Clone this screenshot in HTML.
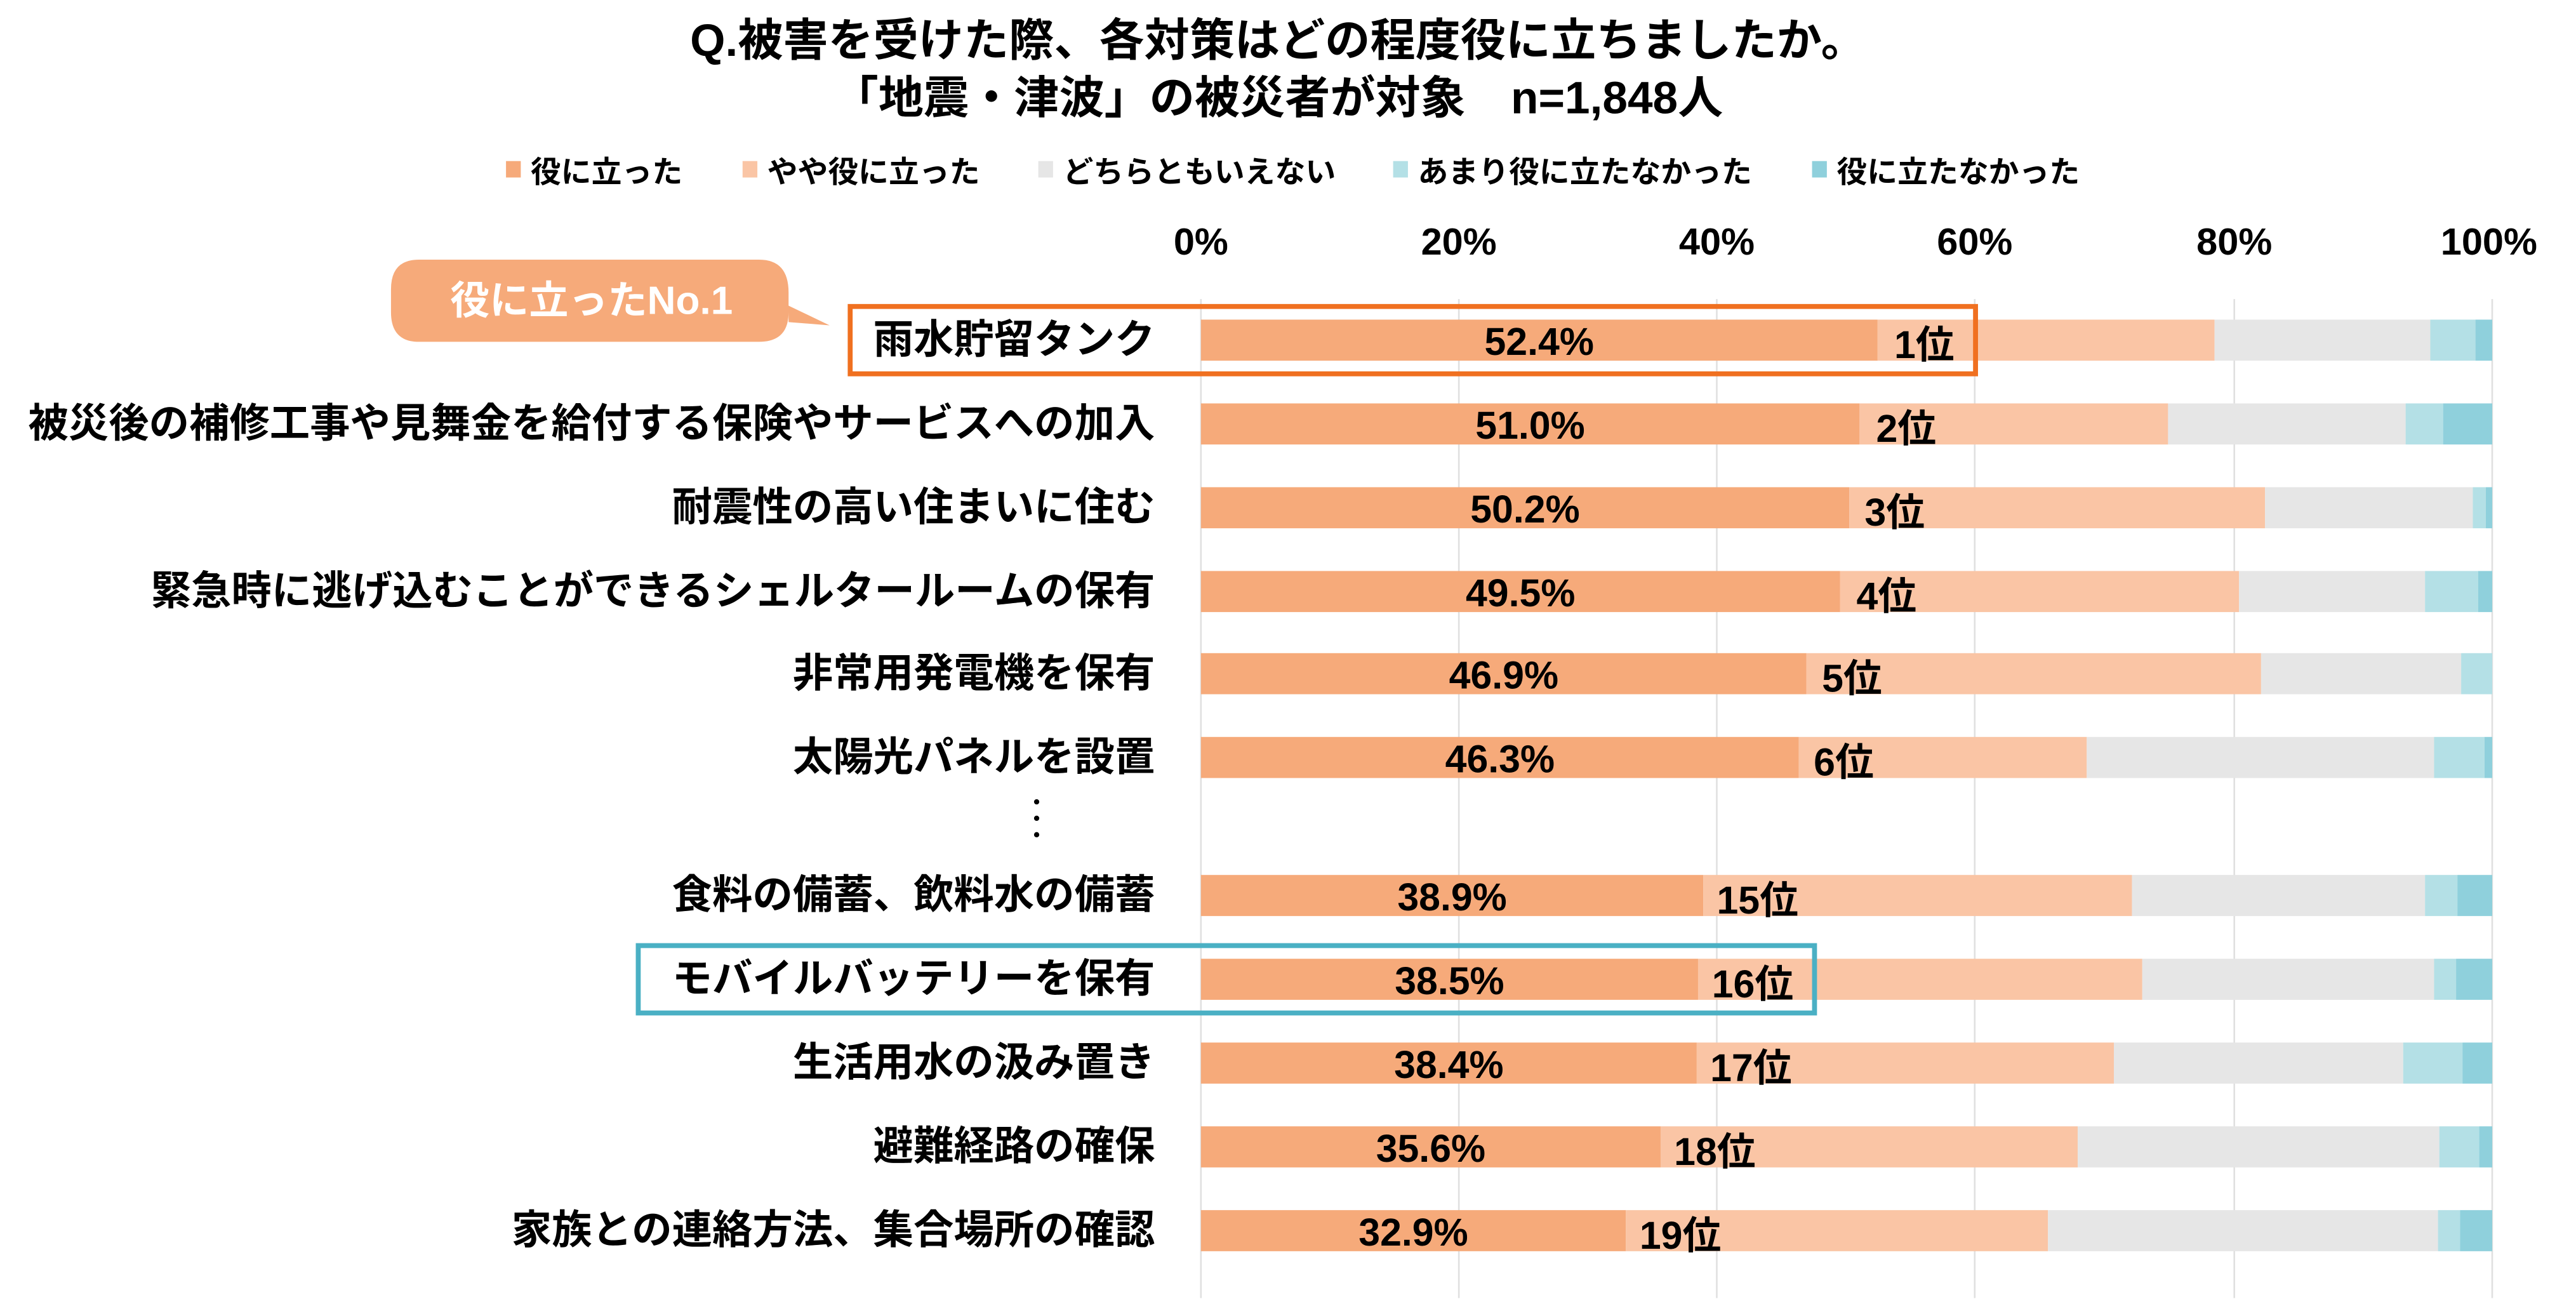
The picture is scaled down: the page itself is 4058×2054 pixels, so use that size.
<!DOCTYPE html>
<html><head><meta charset="utf-8"><style>html,body{margin:0;padding:0;background:#fff}svg{display:block}text{font-family:"Liberation Sans","Noto Sans CJK JP",sans-serif;font-weight:bold;fill:#000}.a{fill:#f6aa7a}.b{fill:#fac5a5}.c{fill:#e6e6e6}.d{fill:#b4e0e6}.e{fill:#8fd0dc}</style></head><body>
<svg width="4058" height="2054" viewBox="0 0 1568 793.6" xmlns="http://www.w3.org/2000/svg">
<text x="778" y="34" font-size="27.5" text-anchor="middle">Q.被害を受けた際、各対策はどの程度役に立ちましたか。</text>
<text x="778" y="69" font-size="27.5" text-anchor="middle">「地震・津波」の被災者が対象　n=1,848人</text>
<g font-size="18.5">
<rect x="308" y="98" width="9" height="10" class="a"/><text x="323" y="111">役に立った</text>
<rect x="452" y="98" width="9" height="10" class="b"/><text x="467" y="111">やや役に立った</text>
<rect x="632" y="98" width="9" height="10" class="c"/><text x="647" y="111">どちらともいえない</text>
<rect x="848" y="98" width="9" height="10" class="d"/><text x="863" y="111">あまり役に立たなかった</text>
<rect x="1103" y="98" width="9" height="10" class="e"/><text x="1118" y="111">役に立たなかった</text>
</g>
<g font-size="23" text-anchor="middle">
<text x="731" y="155">0%</text><text x="888" y="155">20%</text><text x="1045" y="155">40%</text><text x="1202" y="155">60%</text><text x="1360" y="155">80%</text><text x="1515" y="155">100%</text>
</g>
<g stroke="#e0e0e0" stroke-width="1">
<line x1="731" y1="182" x2="731" y2="790"/><line x1="888" y1="182" x2="888" y2="790"/><line x1="1045" y1="182" x2="1045" y2="790"/><line x1="1202" y1="182" x2="1202" y2="790"/><line x1="1360" y1="182" x2="1360" y2="790"/><line x1="1517" y1="182" x2="1517" y2="790"/>
</g>

<g>
<rect class="a" x="731" y="194.5" width="411.9" height="25"/><rect class="b" x="1142.9" y="194.5" width="205.1" height="25"/><rect class="c" x="1348" y="194.5" width="131.3" height="25"/><rect class="d" x="1479.3" y="194.5" width="27.5" height="25"/><rect class="e" x="1506.8" y="194.5" width="10.2" height="25"/>
<rect class="a" x="731" y="245.5" width="400.9" height="25"/><rect class="b" x="1131.9" y="245.5" width="187.8" height="25"/><rect class="c" x="1319.7" y="245.5" width="144.6" height="25"/><rect class="d" x="1464.3" y="245.5" width="22.8" height="25"/><rect class="e" x="1487.1" y="245.5" width="29.9" height="25"/>
<rect class="a" x="731" y="296.5" width="394.6" height="25"/><rect class="b" x="1125.6" y="296.5" width="253.1" height="25"/><rect class="c" x="1378.7" y="296.5" width="126.5" height="25"/><rect class="d" x="1505.2" y="296.5" width="7.9" height="25"/><rect class="e" x="1513.1" y="296.5" width="3.9" height="25"/>
<rect class="a" x="731" y="347.5" width="389.1" height="25"/><rect class="b" x="1120.1" y="347.5" width="242.8" height="25"/><rect class="c" x="1362.9" y="347.5" width="113.2" height="25"/><rect class="d" x="1476.1" y="347.5" width="32.3" height="25"/><rect class="e" x="1508.4" y="347.5" width="8.6" height="25"/>
<rect class="a" x="731" y="397.5" width="368.6" height="25"/><rect class="b" x="1099.6" y="397.5" width="276.7" height="25"/><rect class="c" x="1376.3" y="397.5" width="121.8" height="25"/><rect class="d" x="1498.1" y="397.5" width="18.9" height="25"/>
<rect class="a" x="731" y="448.5" width="363.9" height="25"/><rect class="b" x="1094.9" y="448.5" width="175.3" height="25"/><rect class="c" x="1270.2" y="448.5" width="211.4" height="25"/><rect class="d" x="1481.6" y="448.5" width="30.7" height="25"/><rect class="e" x="1512.3" y="448.5" width="4.7" height="25"/>
<rect class="a" x="731" y="532.5" width="305.8" height="25"/><rect class="b" x="1036.8" y="532.5" width="260.9" height="25"/><rect class="c" x="1297.7" y="532.5" width="178.4" height="25"/><rect class="d" x="1476.1" y="532.5" width="19.7" height="25"/><rect class="e" x="1495.8" y="532.5" width="21.2" height="25"/>
<rect class="a" x="731" y="583.5" width="302.6" height="25"/><rect class="b" x="1033.6" y="583.5" width="270.4" height="25"/><rect class="c" x="1304" y="583.5" width="177.6" height="25"/><rect class="d" x="1481.6" y="583.5" width="13.4" height="25"/><rect class="e" x="1495" y="583.5" width="22" height="25"/>
<rect class="a" x="731" y="634.5" width="301.8" height="25"/><rect class="b" x="1032.8" y="634.5" width="253.9" height="25"/><rect class="c" x="1286.7" y="634.5" width="176.1" height="25"/><rect class="d" x="1462.8" y="634.5" width="36.1" height="25"/><rect class="e" x="1498.9" y="634.5" width="18.1" height="25"/>
<rect class="a" x="731" y="685.5" width="279.8" height="25"/><rect class="b" x="1010.8" y="685.5" width="253.9" height="25"/><rect class="c" x="1264.7" y="685.5" width="220.1" height="25"/><rect class="d" x="1484.8" y="685.5" width="24.3" height="25"/><rect class="e" x="1509.1" y="685.5" width="7.9" height="25"/>
<rect class="a" x="731" y="736.5" width="258.6" height="25"/><rect class="b" x="989.6" y="736.5" width="257" height="25"/><rect class="c" x="1246.6" y="736.5" width="237.4" height="25"/><rect class="d" x="1484" y="736.5" width="13.4" height="25"/><rect class="e" x="1497.4" y="736.5" width="19.6" height="25"/>
</g>

<g font-size="24.5" text-anchor="end">
<text x="703" y="215">雨水貯留タンク</text>
<text x="703" y="266">被災後の補修工事や見舞金を給付する保険やサービスへの加入</text>
<text x="703" y="317">耐震性の高い住まいに住む</text>
<text x="703" y="368">緊急時に逃げ込むことができるシェルタールームの保有</text>
<text x="703" y="418">非常用発電機を保有</text>
<text x="703" y="469">太陽光パネルを設置</text>
<text x="703" y="553">食料の備蓄、飲料水の備蓄</text>
<text x="703" y="604">モバイルバッテリーを保有</text>
<text x="703" y="655">生活用水の汲み置き</text>
<text x="703" y="706">避難経路の確保</text>
<text x="703" y="757">家族との連絡方法、集合場所の確認</text>
</g>
<g font-size="23.5" text-anchor="middle">
<text x="936.9" y="216">52.4%</text>
<text x="931.4" y="267">51.0%</text>
<text x="928.3" y="318">50.2%</text>
<text x="925.5" y="369">49.5%</text>
<text x="915.3" y="419">46.9%</text>
<text x="913" y="470">46.3%</text>
<text x="883.9" y="554">38.9%</text>
<text x="882.3" y="605">38.5%</text>
<text x="881.9" y="656">38.4%</text>
<text x="870.9" y="707">35.6%</text>
<text x="860.3" y="758">32.9%</text>
</g>
<g font-size="23.5">
<text x="1153" y="218">1位</text>
<text x="1142" y="269">2位</text>
<text x="1135" y="320">3位</text>
<text x="1130" y="371">4位</text>
<text x="1109" y="421">5位</text>
<text x="1104" y="472">6位</text>
<text x="1045" y="556">15位</text>
<text x="1042" y="607">16位</text>
<text x="1041" y="658">17位</text>
<text x="1019" y="709">18位</text>
<text x="998" y="760">19位</text>
</g>

<path d="M255 158 H462 Q480 158 480 178 V186 L505 198 L480 196 V190 Q480 208 462 208 H255 Q238 208 238 190 V176 Q238 158 255 158 Z" fill="#f6aa7a"/>
<text x="360" y="191" font-size="24" text-anchor="middle" style="fill:#fff">役に立ったNo.1</text>
<rect x="517.5" y="186.5" width="685" height="41" fill="none" stroke="#f07020" stroke-width="3"/>
<rect x="388.5" y="575.5" width="716" height="41" fill="none" stroke="#4ab0c4" stroke-width="3"/>
<circle cx="631" cy="488" r="1.6" fill="#000"/><circle cx="631" cy="498" r="1.6" fill="#000"/><circle cx="631" cy="508" r="1.6" fill="#000"/>
</svg>
</body></html>
